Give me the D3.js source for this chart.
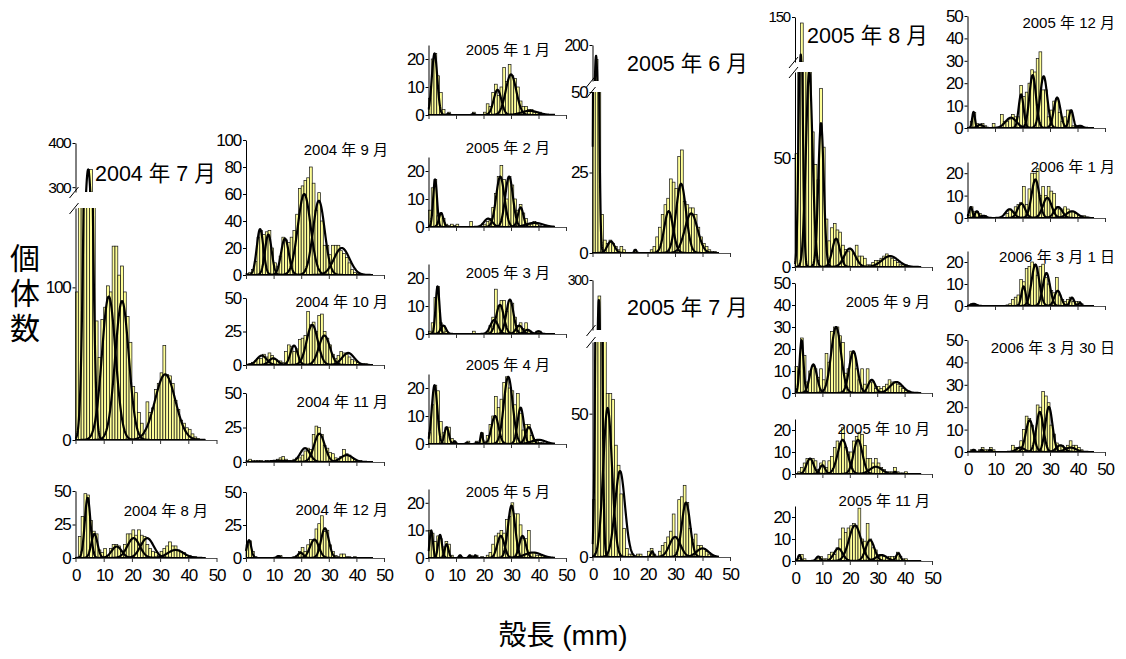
<!DOCTYPE html>
<html>
<head>
<meta charset="utf-8">
<script src="https://cdn.jsdelivr.net/npm/d3@7/dist/d3.min.js"></script>
<style>
  html, body { margin: 0; padding: 0; background: #fff; }
  svg { display: block; }
</style>
</head>
<body>
<script>
// Shell-length frequency counts per 1 mm class (class i = i..i+1 mm)
const c2004_07 = [97,180,230,260,280,340,170,78,54,79,87,101,97,127,127,108,114,97,81,64,35,31,18,11,4,25,18,21,33,37,44,62,43,42,37,26,20,13,11,8,7,4,2,1];
const c2004_08 = [0,16,31,48,47,28,20,18,6,4,7,2,7,10,10,9,5,10,18,18,21,17,21,17,16,10,7,5,4,2,5,7,9,12,9,9,6,5,4,2,2,1,1];
const c2004_09 = [1,2,4,10,28,33,30,32,33,20,9,6,14,28,26,24,28,33,45,64,66,70,72,80,68,48,61,40,22,22,15,22,22,22,18,16,13,9,4,2,1];
const c2004_10 = [0,1,2,3,5,5,8,6,9,7,4,3,3,2,10,15,14,10,12,19,20,22,40,30,32,25,37,38,25,20,15,8,5,7,10,9,8,6,4,3,2,1,1,1];
const c2004_11 = [1,2,1,1,1,1,0,1,0,1,1,2,3,4,2,1,1,2,3,3,5,8,10,9,20,26,25,20,12,10,7,6,3,2,4,9,6,5,3,2,1,1];
const c2004_12 = [10,13,5,1,0,0,0,0,0,0,0,1,2,0,0,0,0,1,2,5,8,5,10,14,13,22,26,32,20,21,10,5,2,1,3,3,1,1,0,1];
const c2005_01 = [6,20,22,14,8,2,0,1,0,0,0,0,0,0,0,0,1,0,0,0,1,4,3,8,11,7,10,17,12,18,14,13,10,5,3,3,2,2,1,1,1,0.5];
const c2005_02 = [6,14,17,4,5,3,1,0.5,1,0.5,1,0,0,0,0,2,0,0,0,0,1,2,3,7,12,18,22,17,10,18,15,10,6,8,5,3,1,1,2,1,0.5];
const c2005_03 = [1,4,13,17,4,3,1,0,0,0,0,0,0,0,0,0,1,0,0,0,0,1,3,6,16,10,12,12,8,12,11,6,3,4,2,4,1,0.5,0,1,1];
const c2005_04 = [4,14,21,19,8,4,6,6,2,1,0,0,0,0,1,0,0,1,0,4,1,3,7,10,17,13,16,22,24,20,19,14,18,11,5,7,7,3,1,1,0.5,0.5];
const c2005_05 = [10,9,6,8,7,4,6,5,1,0,0,1,0,0,0,1,0,1,0,0.5,0,1,2,5,8,9,10,9,14,15,20,16,16,12,7,7,10,2,2,1,1,1];
const c2005_06 = [120,180,100,12,4,3,4,3,2,1,2,1,0,0,0,1,0,0,0,0,0,1,2,5,8,12,15,17,23,22,20,30,32,16,15,14,14,12,8,5,3,2,1,0.5,0.5];
const c2005_07 = [20,150,284,140,90,57,57,55,39,32,22,10,3,1,1,0,1,1,0,0,2,3,1,0,2,4,5,7,9,15,7,20,21,25,19,10,6,8,4,4,3,2,1,0.5];
const c2005_08 = [52,110,146,115,105,95,62,47,40,82,55,22,12,18,20,17,16,10,8,7,8,6,10,5,5,4,1,1,2,3,3,4,5,6,5,4,3,2,1,1,1,0.5];
const c2005_09 = [12,10,25,17,5,10,12,11,7,11,6,18,14,28,30,30,26,23,9,11,19,18,11,6,11,4,11,5,5,2,3,2,3,4,6,5,5,4,3,2,1,1];
const c2005_10 = [0,1,3,5,7,7,7,6,2,5,6,3,6,8,12,15,14,21,12,10,10,15,17,19,18,13,7,7,5,7,5,3,2,1,1,1,3,1,0.5,0.5,1];
const c2005_11 = [0,1,3,1,0,0,0,0,1,2,1,1,3,4,3,6,10,15,13,15,16,17,16,24,10,9,17,10,6,5,3,3,2,1,2,2,2,4,2,1,1];
const c2005_12 = [0,3,7,2,1,2,1,0,0,2,0,0,6,3,3,4,6,5,5,19,14,16,20,26,25,31,34,17,17,5,8,12,13,7,3,5,8,8,1,1,1,0.5];
const c2006_01 = [1,5,3,3,2,1,1,0,0,0,0,0,0,0,2,4,3,5,6,7,14,6,13,20,20,22,10,14,10,14,12,11,5,4,4,5,4,3,3,2,1,1,1,0.5];
const c2006_03a = [0,1,1,0.5,0,0,0,0,0,0,0,0,0,0,0.5,1,3,4,5,12,11,17,18,20,19,14,18,19,13,10,7,6,13,5,3,2,3,4,2,2,2,1];
const c2006_03b = [0,1,1,0,1,2,1,1,2,1,0,0,0,0,0,0,3,2,2,5,10,16,15,12,8,21,20,27,25,22,12,8,4,3,3,2,3,5,3,3,2,1];

// Fitted normal cohorts: [mean (mm), sd (mm), peak count]
const f2004_07 = [[4.5,1.3,340],[11.8,2.4,94],[16.5,2.4,91],[31.8,3.6,43]];
const f2004_08 = [[4.3,1.0,45],[6.7,1.1,18],[14.6,1.8,8.6],[20.6,2.2,14.8],[25.4,2.3,14.8],[35.5,2.8,6]];
const f2004_09 = [[5.1,1.2,34],[8.1,1.2,30],[14.1,1.4,27],[21.1,2.3,60],[26.4,2.1,55],[34.7,2.8,20]];
const f2004_10 = [[5.7,1.8,7],[9.9,1.6,5],[17.4,1.3,14.5],[24,2,30],[28.4,2,22],[37,2.2,9]];
const f2004_11 = [[12,3,1],[21.4,1.8,10],[26.6,1.9,20.5],[36.5,2.2,5]];
const f2004_12 = [[1.1,0.8,13.5],[11.7,0.6,1.5],[19.8,1,4],[24.8,1.6,14],[28.6,1.4,22.5]];
const f2005_01 = [[2.2,1.0,22],[7.2,0.4,0.5],[16.3,0.4,0.5],[25.1,1.4,9],[30,1.9,14.5],[36.8,3,1.5]];
const f2005_02 = [[2.4,0.7,17],[4.6,0.8,5],[21.7,1.5,3],[26.1,1.5,18],[29.3,1.4,18],[33.5,1,7],[38.6,3,1.5]];
const f2005_03 = [[3.3,0.7,17],[5.4,1,3],[23.9,1.4,5],[26,1.4,10.4],[29.6,1.3,12.3],[33,1.2,3],[36,1.2,1.5],[40,0.8,1]];
const f2005_04 = [[2.2,1,21],[6.6,0.8,6],[9.5,0.4,1],[14,0.4,0.5],[17.5,0.4,0.5],[19.3,0.4,4],[24.2,1.3,10],[29,1.6,24],[33.5,1.1,13],[36.5,1.2,6],[40,2.5,1.5]];
const f2005_05 = [[1,0.6,10],[4.2,0.7,8.4],[6.6,0.7,5],[11.5,0.4,1],[15,0.4,1],[17,0.4,1],[26.3,1.3,8],[30.2,1.3,19],[34.2,1.2,8],[38,3,2]];
const f2005_06 = [[1.3,0.7,185],[6.7,1.3,3.6],[15.6,0.4,1],[27.7,1.6,13],[32.2,1.8,21.5],[35.9,2.3,12.3]];
const f2005_07 = [[2.3,0.8,280],[5.5,1.6,52],[10,1.8,30],[21.7,0.5,2],[30,2,7],[34,1.5,19],[40,2.2,3]];
const f2005_08 = [[2.1,0.7,125],[5.2,1.2,90],[9.5,1.0,66],[15,1.4,13],[20,2,8.5],[34.7,3,5]];
const f2005_09 = [[2.4,0.7,24],[6.7,1.3,13],[15,1.8,30],[21.3,1.5,19],[28,1.3,6],[37,2.3,5]];
const f2005_10 = [[5.5,1.3,7],[10,1,4],[17.4,1.8,15.5],[23,1.6,15.5],[29.5,2.2,3.3],[36.5,0.5,1]];
const f2005_11 = [[1.6,0.5,2.7],[8.5,0.8,2],[15.8,1.6,5.7],[21.9,2.2,16.2],[27.4,1.6,9.5],[31.6,2,2.7],[37.7,0.8,3.5]];
const f2005_12 = [[2.2,0.5,7.2],[4.6,1,1.5],[15.8,2,4.6],[19.5,0.9,15],[23.7,1.2,23.6],[27.7,1.3,23.1],[32.6,1.2,13.6],[37.7,0.8,7.9],[40.9,1,1]];
const f2006_01 = [[1.2,0.6,4.9],[3.4,0.7,3],[5.8,1,1],[15.3,1.5,3.9],[19.6,1.4,6.4],[24.7,1.4,17.2],[29,1.6,9],[33,1.5,4.9],[38,2,3]];
const f2006_03a = [[2.2,1,1],[20.4,0.8,8.9],[24.7,1.4,18.8],[28.7,1.3,15],[32.8,1.2,6.9],[38,0.8,3.8],[40.9,0.5,1.5]];
const f2006_03b = [[2.2,0.5,1],[5.2,0.5,1],[8.3,0.5,1],[19.2,1.5,2],[22.6,1.4,14.2],[26.3,1.3,17.9],[29.6,1.3,20.1],[33.8,1.5,3],[37.5,2,2]];

// Sampling dates shown above each histogram
const titles = {
  a0407: "2004 年 7 月", a0408: "2004 年 8 月", a0409: "2004 年 9 月", a0410: "2004 年 10 月",
  a0411: "2004 年 11 月", a0412: "2004 年 12 月", a0501: "2005 年 1 月", a0502: "2005 年 2 月",
  a0503: "2005 年 3 月", a0504: "2005 年 4 月", a0505: "2005 年 5 月", a0506: "2005 年 6 月",
  a0507: "2005 年 7 月", a0508: "2005 年 8 月", a0509: "2005 年 9 月", a0510: "2005 年 10 月",
  a0511: "2005 年 11 月", a0512: "2005 年 12 月", a0601: "2006 年 1 月", a0603a: "2006 年 3 月 1 日",
  a0603b: "2006 年 3 月 30 日"
};
const xTicks = [0, 10, 20, 30, 40, 50];
const yTitle = ["個", "体", "数"];
const xTitle = "殻長 (mm)";

// ---------------------------------------------------------------- layout
const FONT = '"Liberation Sans", Arial, "Noto Sans CJK JP", sans-serif';
const COL = {
  c1: [75.5, 216.5], c2: [246, 384], c3: [428.5, 566], c4: [592.5, 730], c5: [795, 932], c6: [967.5, 1105]
};
const panels = [
  {col:"c1", counts:c2004_07, fits:f2004_07, title:titles.a0407, y0:440, yTop:208, max:152, ticks:[0,100],
   upper:[289,400], uy0:192, uy1:143, upperTicks:[300,400], upperFont:15.5, tx:95, ty:181, big:true},
  {col:"c1", counts:c2004_08, fits:f2004_08, title:titles.a0408, y0:558, yTop:491, max:50, ticks:[0,25,50], tx:208, ty:516, xlab:true},
  {col:"c2", counts:c2004_09, fits:f2004_09, title:titles.a0409, y0:275, yTop:140, max:100, ticks:[0,20,40,60,80,100], tx:388, ty:155},
  {col:"c2", counts:c2004_10, fits:f2004_10, title:titles.a0410, y0:365, yTop:298, max:50, ticks:[0,25,50], tx:388, ty:307},
  {col:"c2", counts:c2004_11, fits:f2004_11, title:titles.a0411, y0:462, yTop:393, max:50, ticks:[0,25,50], tx:388, ty:407},
  {col:"c2", counts:c2004_12, fits:f2004_12, title:titles.a0412, y0:558, yTop:492, max:50, ticks:[0,25,50], tx:388, ty:515, xlab:true},
  {col:"c3", counts:c2005_01, fits:f2005_01, title:titles.a0501, y0:115, yTop:45, max:25, ticks:[0,10,20], tx:550, ty:55},
  {col:"c3", counts:c2005_02, fits:f2005_02, title:titles.a0502, y0:227, yTop:157, max:25, ticks:[0,10,20], tx:550, ty:153},
  {col:"c3", counts:c2005_03, fits:f2005_03, title:titles.a0503, y0:334, yTop:264, max:25, ticks:[0,10,20], tx:550, ty:278},
  {col:"c3", counts:c2005_04, fits:f2005_04, title:titles.a0504, y0:444, yTop:374, max:25, ticks:[0,10,20], tx:550, ty:370},
  {col:"c3", counts:c2005_05, fits:f2005_05, title:titles.a0505, y0:558, yTop:489, max:25, ticks:[0,10,20], tx:550, ty:497, xlab:true},
  {col:"c4", counts:c2005_06, fits:f2005_06, title:titles.a0506, y0:253, yTop:92, max:50, ticks:[0,25,50],
   upper:[150,200], uy0:81, uy1:45, upperTicks:[200], upperFont:16, tx:627, ty:71, big:true},
  {col:"c4", counts:c2005_07, fits:f2005_07, title:titles.a0507, y0:557, yTop:342, max:75, ticks:[0,50],
   upper:[250,300], uy0:330, uy1:280, upperTicks:[300], upperFont:14, tx:627, ty:315, big:true, xlab:true},
  {col:"c5", counts:c2005_08, fits:f2005_08, title:titles.a0508, y0:267, yTop:72, max:89.5, ticks:[0,50],
   upper:[120,150], uy0:62, uy1:17, upperTicks:[150], upperFont:15, tx:807, ty:43, big:true},
  {col:"c5", counts:c2005_09, fits:f2005_09, title:titles.a0509, y0:393, yTop:283, max:50, ticks:[0,10,20,30,40,50], tx:930, ty:307},
  {col:"c5", counts:c2005_10, fits:f2005_10, title:titles.a0510, y0:474, yTop:419, max:25, ticks:[0,10,20], tx:930, ty:434},
  {col:"c5", counts:c2005_11, fits:f2005_11, title:titles.a0511, y0:561, yTop:506, max:25, ticks:[0,10,20], tx:930, ty:506, xlab:true},
  {col:"c6", counts:c2005_12, fits:f2005_12, title:titles.a0512, y0:128, yTop:16, max:50, ticks:[0,10,20,30,40,50], tx:1115, ty:28},
  {col:"c6", counts:c2006_01, fits:f2006_01, title:titles.a0601, y0:218, yTop:162, max:25, ticks:[0,10,20], tx:1115, ty:172},
  {col:"c6", counts:c2006_03a, fits:f2006_03a, title:titles.a0603a, y0:306, yTop:251, max:25, ticks:[0,10,20], tx:1115, ty:262},
  {col:"c6", counts:c2006_03b, fits:f2006_03b, title:titles.a0603b, y0:452, yTop:340, max:50, ticks:[0,10,20,30,40,50], tx:1115, ty:353, xlab:true}
];

const svg = d3.select("body").append("svg")
  .attr("width", 1126).attr("height", 659)
  .style("font-family", FONT);
const defs = svg.append("defs");

const gauss = (m, s, h) => v => h * Math.exp(-((v - m) * (v - m)) / (2 * s * s));
const sampleX = d3.range(0, 46.01, 0.1);

let clipN = 0;
function drawSegment(g, p, x, domain, range, ticks, fontSize, isUpper) {
  const y = d3.scaleLinear().domain(domain).range(range);
  const id = "clip" + (clipN++);
  const bottomPad = isUpper ? 0 : 3;
  defs.append("clipPath").attr("id", id).append("rect")
    .attr("x", x(0) - 1).attr("y", range[1])
    .attr("width", x(50) - x(0) + 2)
    .attr("height", range[0] - range[1] + bottomPad);
  const body = g.append("g").attr("clip-path", `url(#${id})`);

  // histogram classes
  body.selectAll("rect.bar")
    .data(p.counts.map((v, i) => ({i, v})).filter(d => d.v > domain[0]))
    .join("rect").attr("class", "bar")
    .attr("x", d => x(d.i))
    .attr("width", d => x(d.i + 1) - x(d.i))
    .attr("y", d => y(d.v))
    .attr("height", d => y(domain[0]) - y(d.v))
    .attr("fill", "#ffff99")
    .attr("stroke", "#111")
    .attr("stroke-width", 0.7);

  // fitted normal components
  const line = d3.line().x(d => x(d[0])).y(d => y(d[1]));
  p.fits.forEach(([m, s, h]) => {
    const f = gauss(m, s, h);
    body.append("path")
      .attr("d", line(sampleX.map(v => [v, f(v)])))
      .attr("fill", "none").attr("stroke", "#000")
      .attr("stroke-width", 2.2).attr("stroke-linejoin", "round");
  });

  // y axis
  const ax = g.append("g")
    .attr("transform", `translate(${x(0)},0)`)
    .call(d3.axisLeft(y).tickValues(ticks).tickSize(3).tickSizeOuter(0).tickPadding(2).tickFormat(d3.format("d")));
  ax.select(".domain").attr("stroke", "#000").attr("stroke-width", 1);
  ax.selectAll(".tick line").attr("stroke", "#000");
  ax.selectAll("text")
    .attr("font-family", FONT).attr("font-size", fontSize)
    .attr("letter-spacing", "-1.2px").attr("fill", "#000");
  return y;
}

panels.forEach(p => {
  const [xa, xb] = COL[p.col];
  const x = d3.scaleLinear().domain([0, 50]).range([xa, xb]);
  const g = svg.append("g");

  drawSegment(g, p, x, [0, p.max], [p.y0, p.yTop], p.ticks, 17, false);
  if (p.upper) {
    drawSegment(g, p, x, p.upper, [p.uy0, p.uy1], p.upperTicks, p.upperFont, true);
    // axis break marks
    [p.uy0, p.yTop].forEach(yy => {
      g.append("line")
        .attr("x1", x(0) - 6).attr("y1", yy + 6)
        .attr("x2", x(0) + 3).attr("y2", yy - 5)
        .attr("stroke", "#000").attr("stroke-width", 1);
    });
  }

  // x axis
  const xa_ = g.append("g")
    .attr("transform", `translate(0,${p.y0})`)
    .call(d3.axisBottom(x).tickValues(xTicks).tickSize(4).tickSizeOuter(0).tickPadding(7)
      .tickFormat(p.xlab ? d3.format("d") : () => ""));
  xa_.select(".domain").attr("stroke", "#555").attr("stroke-width", 1);
  xa_.selectAll(".tick line").attr("stroke", "#333");
  xa_.selectAll("text")
    .attr("font-family", FONT).attr("font-size", 17)
    .attr("letter-spacing", "-1.2px").attr("fill", "#000");

  // sampling date
  g.append("text")
    .attr("x", p.tx).attr("y", p.ty)
    .attr("text-anchor", p.big ? "start" : "end")
    .attr("font-size", p.big ? 21.5 : 15)
    .attr("fill", "#000")
    .text(p.title);
});

// axis titles
svg.append("g").selectAll("text").data(yTitle).join("text")
  .attr("x", 25).attr("y", (d, i) => 269 + i * 35)
  .attr("text-anchor", "middle")
  .attr("font-size", 30).attr("fill", "#000")
  .text(d => d);

svg.append("text")
  .attr("x", 563).attr("y", 645)
  .attr("text-anchor", "middle")
  .attr("font-size", 28).attr("fill", "#000")
  .text(xTitle);
</script>
</body>
</html>
